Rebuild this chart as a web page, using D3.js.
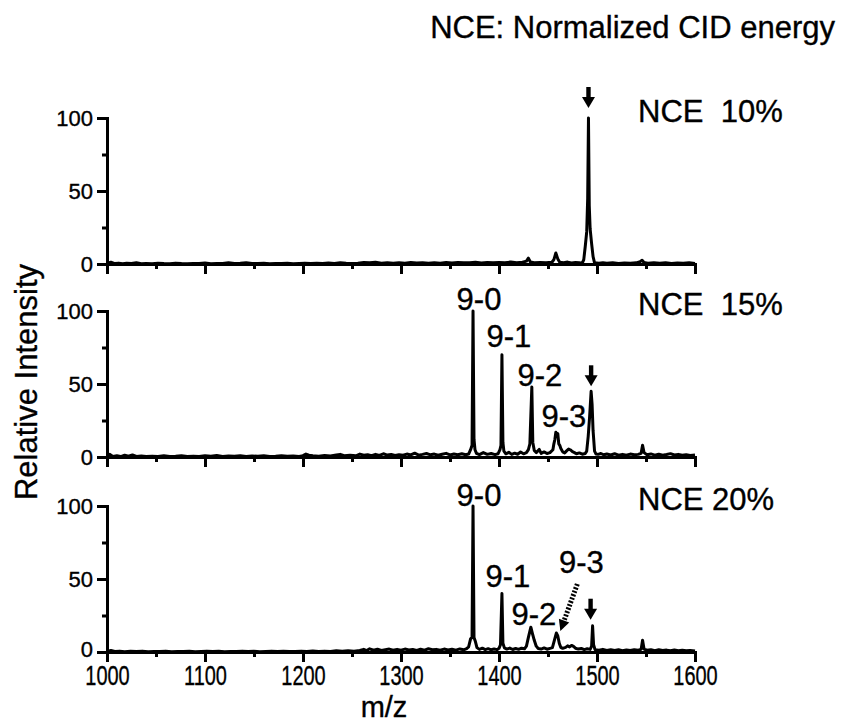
<!DOCTYPE html>
<html>
<head>
<meta charset="utf-8">
<script src="https://cdn.jsdelivr.net/npm/d3@7"></script>
<style>
  body { margin: 0; background: #fff; }
  svg { display: block; }
  text { font-family: "Liberation Sans", Arial, Helvetica, sans-serif; fill: #000; stroke: #000; stroke-width: 0.35px; }
</style>
</head>
<body>
<svg id="chart" width="843" height="723"></svg>
<script>
// ---- spectra: [m/z, relative intensity] ----
const spec10 = [
  [1000,0.4],[1004,1.2],[1008,0.3],[1012,0.6],[1016,0.2],[1020,0.5],[1025,0.3],[1030,0.9],[1035,0.2],[1040,0.4],
  [1046,0.2],[1052,0.5],[1058,0.3],[1064,0.2],[1070,0.6],[1076,0.3],[1082,0.2],[1088,0.4],[1094,0.3],[1100,0.7],
  [1106,0.2],[1112,0.4],[1118,0.3],[1124,0.8],[1130,0.3],[1136,0.5],[1142,0.9],[1148,0.4],[1154,0.3],[1160,0.5],
  [1166,0.2],[1172,0.4],[1178,0.3],[1184,0.5],[1190,0.2],[1196,0.4],[1202,0.6],[1208,0.3],[1214,0.5],[1220,0.3],
  [1226,0.7],[1232,0.4],[1238,0.9],[1244,0.5],[1250,0.3],[1256,0.6],[1262,1.1],[1268,0.8],[1274,1.2],[1280,0.6],
  [1286,0.9],[1292,0.5],[1298,0.8],[1304,0.6],[1310,1.0],[1316,0.7],[1322,0.9],[1328,0.5],[1334,0.8],[1340,0.6],
  [1346,1.0],[1352,0.7],[1358,1.1],[1364,0.8],[1370,0.9],[1376,1.2],[1382,0.7],[1388,1.0],[1394,0.8],[1400,1.1],
  [1406,0.9],[1412,1.3],[1418,0.8],[1424,1.2],[1428,2.0],[1430,4.0],[1432,1.4],[1436,0.9],[1442,1.1],[1448,0.8],
  [1454,1.2],[1456,3.0],[1458,7.5],[1460,3.5],[1462,1.2],[1466,0.9],[1470,1.3],[1474,0.7],[1478,1.0],[1482,0.8],
  [1485,0.6],[1486.5,3],[1488,12],[1489.5,22],[1490.5,45],[1491.3,100],[1492.1,40],[1493,24],[1494.5,14],[1496,5],
  [1497.5,0.8],[1502,0.6],[1506,0.9],[1510,0.5],[1516,0.8],[1522,0.4],[1528,0.7],[1534,0.5],[1540,0.8],[1544,1.6],
  [1546,2.6],[1548,1.0],[1552,0.6],[1558,0.9],[1564,0.5],[1570,0.8],[1576,0.4],[1582,0.7],[1588,0.5],[1594,0.8],
  [1600,0.4]
];

const spec15 = [
  [1000,0.6],[1003,1.8],[1006,0.4],[1010,0.8],[1014,0.3],[1018,1.2],[1022,0.5],[1026,1.4],[1030,0.4],[1035,0.7],
  [1040,0.3],[1046,0.6],[1052,0.4],[1058,0.8],[1064,0.3],[1070,0.5],[1076,0.9],[1082,0.4],[1088,0.6],[1094,0.3],
  [1100,0.8],[1106,0.5],[1112,1.0],[1118,0.4],[1124,0.7],[1130,0.5],[1136,0.9],[1142,0.4],[1148,0.7],[1154,0.5],
  [1160,0.8],[1166,0.4],[1172,0.6],[1178,0.9],[1184,0.5],[1190,0.7],[1196,0.4],[1200,0.9],[1203,2.0],[1206,1.2],
  [1210,0.8],[1216,0.6],[1222,1.0],[1228,0.7],[1234,1.4],[1238,1.8],[1242,0.9],[1248,1.2],[1254,0.8],[1258,2.0],
  [1262,1.2],[1266,1.5],[1270,0.9],[1274,1.8],[1278,1.1],[1282,2.2],[1286,1.3],[1290,1.7],[1294,1.0],[1298,1.6],
  [1302,1.2],[1306,2.0],[1310,1.4],[1314,2.6],[1318,1.3],[1322,1.8],[1326,2.4],[1330,1.5],[1334,2.0],[1338,1.2],
  [1342,1.9],[1346,2.5],[1350,1.4],[1354,2.0],[1358,1.6],[1362,2.2],[1366,1.5],[1369,2.0],[1371,5],[1372.5,8],
  [1373.5,100],[1374.5,12],[1375.5,5],[1377,2.5],[1380,1.6],[1384,3.0],[1388,1.8],[1392,2.4],[1396,1.6],[1399,2.2],
  [1401,5],[1402,8],[1403,70],[1404,10],[1405,4],[1407,2.2],[1410,3.2],[1413,1.8],[1416,2.6],[1419,1.9],
  [1422,3.4],[1425,2.2],[1428,3.0],[1430,5],[1431.5,9],[1433.5,48],[1434.5,10],[1436,4.5],[1438,3],[1441,5.2],
  [1443,2.5],[1446,3.5],[1449,2.4],[1452,3.0],[1455,5],[1456,9],[1457,12],[1458,17],[1459,14],[1460,16],
  [1461,9],[1462,8],[1463,6],[1465,3.5],[1467,2.8],[1469,4.2],[1471,5.5],[1473,4.8],[1475,3.6],[1477,3.0],
  [1479,2.2],[1482,2.8],[1485,1.9],[1488,2.4],[1489.5,4],[1491,14],[1492.5,28],[1494,45],[1495,36],[1496,18],
  [1497.5,4],[1499,2.0],[1501,1.8],[1504,2.4],[1507,1.5],[1510,2.0],[1514,1.4],[1518,2.2],[1522,1.3],[1526,1.8],
  [1530,1.2],[1534,2.0],[1538,1.5],[1542,1.8],[1545,2.5],[1546.5,8],[1548,3],[1551,1.6],[1555,2.1],[1559,1.3],
  [1563,1.9],[1567,1.2],[1571,1.7],[1575,2.3],[1579,1.4],[1583,1.8],[1587,1.2],[1591,1.6],[1595,1.0],[1600,1.3]
];

const spec20 = [
  [1000,0.4],[1004,1.0],[1008,0.3],[1013,0.6],[1018,0.2],[1024,0.5],[1030,0.3],[1036,0.6],[1042,0.2],[1048,0.4],
  [1054,0.3],[1060,0.6],[1066,0.2],[1072,0.4],[1078,0.3],[1084,0.5],[1090,0.2],[1096,0.4],[1102,0.6],[1108,0.3],
  [1114,0.5],[1120,0.2],[1126,0.4],[1132,0.3],[1138,0.6],[1144,0.3],[1150,0.5],[1156,0.2],[1162,0.4],[1168,0.6],
  [1174,0.3],[1180,0.5],[1186,0.3],[1192,0.4],[1198,0.6],[1204,0.3],[1210,0.7],[1216,0.4],[1222,0.6],[1228,0.3],
  [1234,0.8],[1240,0.5],[1246,0.9],[1252,0.6],[1258,1.0],[1262,1.8],[1265,1.0],[1268,2.2],[1272,1.2],[1276,1.9],
  [1280,1.1],[1284,1.6],[1288,2.0],[1292,1.2],[1296,1.8],[1300,1.3],[1304,2.0],[1308,1.4],[1312,1.7],[1316,1.1],
  [1320,1.9],[1324,1.3],[1328,2.2],[1332,1.5],[1336,1.8],[1340,1.2],[1344,2.0],[1348,1.4],[1352,1.9],[1356,1.3],
  [1360,2.1],[1364,1.5],[1367,2.3],[1369,3.5],[1371,9],[1372.5,10],[1373.5,100],[1374.5,10],[1376,7],[1377.5,3],
  [1380,1.8],[1383,2.6],[1386,1.6],[1389,2.3],[1392,1.5],[1395,2.1],[1398,1.6],[1400,2.5],[1401.5,5],[1403,40],
  [1404,6],[1405.5,2.8],[1408,2.0],[1411,2.7],[1414,1.7],[1417,2.4],[1420,1.8],[1423,2.6],[1426,2.2],[1428,4],
  [1430,10],[1432.5,17],[1434,13],[1436,8],[1438,4],[1440,2.4],[1443,2.0],[1446,2.8],[1449,1.9],[1452,2.5],
  [1454.5,3],[1456.5,8],[1458.5,13],[1460,11],[1461.5,6],[1463,3.2],[1465,2.5],[1468,3.2],[1470,4.2],[1472,3.5],
  [1474,4.5],[1476,3.8],[1478,2.6],[1481,2.0],[1484,2.4],[1487,1.6],[1490,2.2],[1493,1.8],[1494.5,4],[1495.5,18],
  [1496.5,5],[1498,1.6],[1502,1.2],[1506,1.8],[1510,1.1],[1514,1.6],[1518,1.0],[1522,1.5],[1526,0.9],[1530,1.4],
  [1534,1.0],[1538,1.6],[1542,1.2],[1545,1.8],[1546.5,8],[1548,2],[1551,1.2],[1555,1.6],[1559,0.9],[1563,1.5],
  [1567,1.0],[1571,1.3],[1575,0.8],[1579,1.4],[1583,0.9],[1587,1.2],[1591,0.8],[1595,1.1],[1600,0.7]
];

// ---- annotations ----
const panelLabels = ["NCE  10%", "NCE  15%", "NCE 20%"];
// precursor ion peak of each spectrum: [m/z, intensity]
const precursorPeaks = [[1491.3, 100], [1494, 45], [1495.5, 18]];
// fragment peaks: [label, m/z, intensity]
const fragments15 = [["9-0", 1373.5, 100], ["9-1", 1403, 70], ["9-2", 1433.5, 48], ["9-3", 1458, 17]];
const fragments20 = [["9-0", 1373.5, 100], ["9-1", 1403, 40], ["9-2", 1432.5, 17], ["9-3", 1458.5, 13]];

// ---- axis ticks ----
const xMajorTicks = [1000, 1100, 1200, 1300, 1400, 1500, 1600];
const xMinorTicks = [1050, 1150, 1250, 1350, 1450, 1550];
const yMajorTicks = [0, 50, 100];
const yMinorTicks = [25, 75];

// ---- labels ----
const titleText = "NCE: Normalized CID energy";
const xTitle = "m/z";
const yTitle = "Relative Intensity";

// ---- layout ----
const svg = d3.select("#chart");
const x = d3.scaleLinear().domain([1000, 1600]).range([107, 695]);
const panelTops = [118, 311, 506];
const panelH = 146;
const LW = 3;
const labelFont = 31;

// per-label pixel offsets from the peak top [dx, dy]
const labelOffsets15 = [[6, -1], [7, -8], [8, -1], [8, -5]];
const labelOffsets20 = [[6, 0], [6, -7], [3, -2], [25, -60]];
const arrowGap = [10, 5, 6];
const arrowShift = [0, 0, -2];

const spectra = [spec10, spec15, spec20];
const fragments = [null, fragments15, fragments20];
const fragOffsets = [null, labelOffsets15, labelOffsets20];

function styleAxis(g) {
  g.selectAll("path.domain")
    .style("stroke", "#000").style("stroke-width", LW + "px").style("stroke-linecap", "square");
  g.selectAll(".tick line")
    .style("stroke", "#000").style("stroke-width", LW + "px");
}

function downArrow(g, cx, tipY) {
  // shaft + head of a solid down-pointing arrow
  g.append("rect").attr("x", cx - 2.2).attr("y", tipY - 21).attr("width", 4.4).attr("height", 12).attr("fill", "#000");
  g.append("path")
    .attr("d", `M${cx - 6.5},${tipY - 11}L${cx + 6.5},${tipY - 11}L${cx},${tipY}Z`)
    .attr("fill", "#000");
}

spectra.forEach((spec, i) => {
  const top = panelTops[i];
  const y = d3.scaleLinear().domain([0, 100]).range([top + panelH, top]);
  const g = svg.append("g");

  // x axis: minor and major ticks
  const gxMinor = g.append("g").attr("transform", `translate(0,${y(0)})`)
    .call(d3.axisBottom(x).tickValues(xMinorTicks).tickSize(5).tickSizeOuter(0).tickFormat(""));
  gxMinor.select("path.domain").remove();
  styleAxis(gxMinor);

  const gx = g.append("g").attr("transform", `translate(0,${y(0)})`)
    .call(d3.axisBottom(x).tickValues(xMajorTicks).tickSize(10).tickSizeOuter(0)
      .tickFormat(i === 2 ? d3.format("d") : ""));
  styleAxis(gx);
  gx.selectAll(".tick text")
    .attr("y", 13.5).attr("dy", "0.71em")
    .attr("font-size", 27)
    .attr("transform", "scale(0.74,1)");

  // y axis
  const gyMinor = g.append("g").attr("transform", `translate(${x(1000)},0)`)
    .call(d3.axisLeft(y).tickValues(yMinorTicks).tickSize(5).tickSizeOuter(0).tickFormat(""));
  gyMinor.select("path.domain").remove();
  styleAxis(gyMinor);

  const gy = g.append("g").attr("transform", `translate(${x(1000)},0)`)
    .call(d3.axisLeft(y).tickValues(yMajorTicks).tickSize(10).tickSizeOuter(0).tickFormat(d3.format("d")));
  styleAxis(gy);
  gy.selectAll(".tick text")
    .attr("x", -14).attr("font-size", 22)
    // the lowest "0" sits a little higher to clear the m/z labels below it
    .attr("y", d => (i === 2 && d === 0) ? -3 : 0);

  // spectrum trace
  g.append("path")
    .datum(spec)
    .attr("fill", "none")
    .attr("stroke", "#000")
    .attr("stroke-width", 3)
    .attr("stroke-linejoin", "round")
    .attr("d", d3.line().x(d => x(d[0])).y(d => y(d[1])));

  // energy label
  g.append("text")
    .attr("x", 638).attr("y", top + 4)
    .attr("font-size", labelFont)
    .style("white-space", "pre")
    .text(panelLabels[i]);

  // precursor arrow
  const p = precursorPeaks[i];
  downArrow(g, x(p[0]) + arrowShift[i], y(p[1]) - arrowGap[i]);

  // fragment labels
  if (fragments[i]) {
    fragments[i].forEach((f, k) => {
      const off = fragOffsets[i][k];
      g.append("text")
        .attr("x", x(f[1]) + off[0])
        .attr("y", y(f[2]) + off[1])
        .attr("text-anchor", "middle")
        .attr("font-size", labelFont)
        .text(f[0]);
    });
  }

  // dashed pointer to the weak 9-3 peak at NCE 20%
  if (i === 2) {
    const f = fragments20[3];
    const tipX = x(f[1]) + 4, tipY = y(f[2]) - 2;
    const tailX = x(f[1]) + 21, tailY = y(f[2]) - 49;
    const ang = Math.atan2(tipY - tailY, tipX - tailX);
    const headLen = 11, headHalf = 5.5;
    const bx = tipX - headLen * Math.cos(ang), by = tipY - headLen * Math.sin(ang);
    g.append("line")
      .attr("x1", tailX).attr("y1", tailY).attr("x2", bx).attr("y2", by)
      .attr("stroke", "#000").attr("stroke-width", 5).attr("stroke-dasharray", "2 1.6");
    const nx = -Math.sin(ang), ny = Math.cos(ang);
    g.append("path")
      .attr("d", `M${bx + nx * headHalf},${by + ny * headHalf}L${bx - nx * headHalf},${by - ny * headHalf}L${tipX},${tipY}Z`)
      .attr("fill", "#000");
  }
});

// titles
svg.append("text")
  .attr("x", 835).attr("y", 38)
  .attr("text-anchor", "end")
  .attr("font-size", 31)
  .text(titleText);

svg.append("text")
  .attr("x", 384).attr("y", 716.5)
  .attr("text-anchor", "middle")
  .attr("font-size", 29)
  .text(xTitle);

svg.append("text")
  .attr("transform", "translate(37,382) rotate(-90)")
  .attr("text-anchor", "middle")
  .attr("font-size", 31)
  .text(yTitle);
</script>
</body>
</html>
